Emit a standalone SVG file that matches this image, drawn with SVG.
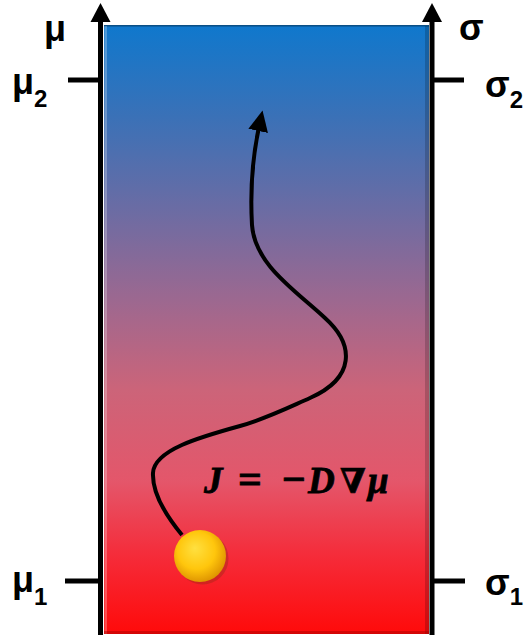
<svg xmlns="http://www.w3.org/2000/svg" width="530" height="637" viewBox="0 0 530 637">
  <style>
    .lbl { font-family: "Liberation Sans", Arial, sans-serif; font-weight: bold; fill: #000; }
    .big { font-size: 36px; }
    .sub { font-size: 24px; }
    .axis { stroke: #000; stroke-width: 5; fill: none; }
    .tick { stroke: #000; stroke-width: 5; }
    .eq { font-family: "Liberation Serif", "DejaVu Serif", serif; font-weight: bold; font-style: italic; font-size: 37px; fill: #000; stroke: #000; stroke-width: 0.8; }
    .op { font-size: 42px; font-style: normal; }
  </style>
  <defs>
    <linearGradient id="bg" x1="0" y1="0" x2="0" y2="1">
      <stop offset="0" stop-color="#0f78cd"/>
      <stop offset="0.15" stop-color="#3a71b7"/>
      <stop offset="0.3" stop-color="#6a6ca4"/>
      <stop offset="0.45" stop-color="#9c6890"/>
      <stop offset="0.6" stop-color="#cc6479"/>
      <stop offset="0.75" stop-color="#e4566a"/>
      <stop offset="0.87" stop-color="#f52c3a"/>
      <stop offset="1" stop-color="#ff0a0a"/>
    </linearGradient>
    <radialGradient id="ball" cx="0.45" cy="0.42" r="0.6" fx="0.4" fy="0.35">
      <stop offset="0" stop-color="#ffe040"/>
      <stop offset="0.6" stop-color="#ffc60c"/>
      <stop offset="1" stop-color="#dd9200"/>
    </radialGradient>
    <marker id="ah" markerUnits="userSpaceOnUse" markerWidth="22" markerHeight="22" viewBox="0 0 22 22" refX="4" refY="11" orient="auto">
      <path d="M0,1 L21,11 L0,21 Z" fill="#000"/>
    </marker>
  </defs>

  <g id="panel">
    <rect x="104" y="25" width="325" height="609" fill="url(#bg)"/>
    <rect x="104" y="25" width="325" height="1.5" fill="#0a3d66" opacity="0.7"/>
    <rect x="104.5" y="26" width="2.5" height="608" fill="#ffffff" opacity="0.25"/>
    <rect x="425" y="26" width="4" height="608" fill="#000000" opacity="0.18"/>
    <rect x="104" y="631" width="325" height="3" fill="#a00000" opacity="0.45"/>
  </g>

  <g id="left-axis">
    <line class="axis" x1="100.5" y1="20" x2="100.5" y2="635"/>
    <path d="M100.5,3 L110.5,22 L90.5,22 Z" fill="#000"/>
    <line class="tick" x1="68" y1="80" x2="100" y2="80"/>
    <line class="tick" x1="65" y1="581" x2="100" y2="581"/>
  </g>

  <g id="right-axis">
    <line class="axis" x1="432" y1="20" x2="432" y2="635"/>
    <path d="M432,3 L442,22 L422,22 Z" fill="#000"/>
    <line class="tick" x1="432" y1="80" x2="464" y2="80"/>
    <line class="tick" x1="432" y1="581" x2="465" y2="581"/>
  </g>

  <g id="labels">
    <text class="lbl big" x="44" y="41">μ</text>
    <text class="lbl" x="12" y="94"><tspan class="big">μ</tspan><tspan class="sub" y="107">2</tspan></text>
    <text class="lbl" x="12" y="592"><tspan class="big">μ</tspan><tspan class="sub" y="605">1</tspan></text>
    <text class="lbl big" x="459" y="40">σ</text>
    <text class="lbl" x="485" y="97"><tspan class="big">σ</tspan><tspan class="sub" y="108">2</tspan></text>
    <text class="lbl" x="485" y="595"><tspan class="big">σ</tspan><tspan class="sub" y="605">1</tspan></text>
  </g>

  <g id="connectors">
    <path d="M182,535 C168,518 152,495 153,473 C154,450 200,437 240,426 C265,419 283,410 310,398 C355,378 355,345 325,318 C295,290 255,265 252,225 C250,190 253,155 259,127" fill="none" stroke="#000" stroke-width="4" marker-end="url(#ah)"/>
  </g>

  <g id="particle">
    <circle cx="202.5" cy="558.5" r="26" fill="#8a2a10" opacity="0.35"/>
    <circle cx="200" cy="556" r="26" fill="url(#ball)"/>
  </g>

  <g id="equation">
    <text class="eq" y="493"><tspan x="204">J</tspan><tspan class="op" x="238">=</tspan><tspan class="op" x="282">−</tspan><tspan x="308">D</tspan><tspan x="340" font-size="34">∇</tspan><tspan x="368">μ</tspan></text>
  </g>
</svg>
